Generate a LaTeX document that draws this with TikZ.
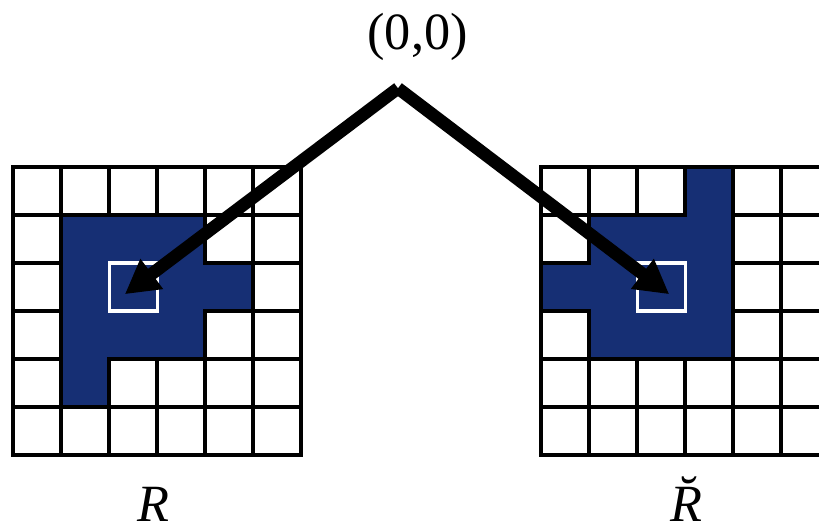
\documentclass[tikz,border=0pt]{standalone}
\usepackage{fix-cm}
\usepackage{amsmath}
\usepackage{fontspec}
\setmainfont{Liberation Serif}
\usepackage{tikz}
\usetikzlibrary{arrows.meta}
\definecolor{regionblue}{RGB}{22,47,116}
\tikzset{
    gridline/.style={
        line width=2.1pt,
        black
    },
    bluepatch/.style={
        line width=2.1pt,
        draw=black,
        fill=regionblue
    },
    % white frame of the centre cell
    centrebox/.style={
        line width=1.8pt,
        white
    },
    blackarrow/.style={
        line width=7.5pt,
        black,
        ->,
        >={Triangle[length=20pt, width=21pt]}
    },
    biglabel/.style={
        font=\fontsize{31}{36}\selectfont
    }
}

\begin{document}
\begin{tikzpicture}[x=1cm,y=1cm]
    \useasboundingbox (-0.271,-7.479) rectangle (16.79,3.479);
    \clip (-0.271,-7.479) rectangle (16.79,3.479);
    % the two 6x6 grids
    \draw[gridline] (0,0) grid (6,-6);
    \draw[gridline] (11,0) grid (17,-6);
    % the region R and its reflection
    \draw[bluepatch] (1,-1) -- (4,-1) -- (4,-2) -- (5,-2) -- (5,-3) -- (4,-3)
        -- (4,-4) -- (2,-4) -- (2,-5) -- (1,-5) -- cycle;
    \draw[bluepatch] (14,0) -- (15,0) -- (15,-4) -- (12,-4) -- (12,-3)
        -- (11,-3) -- (11,-2) -- (12,-2) -- (12,-1) -- (14,-1) -- cycle;
    \draw[centrebox] (2,-2) rectangle (3,-3);
    \draw[centrebox] (13,-2) rectangle (14,-3);
    \draw[gridline] (0,0) rectangle (6,-6);
    \draw[gridline] (11,0) rectangle (17,-6);

    \path (8.02,1.64) coordinate (apex)
          (2.33,-2.65) coordinate (ltip)
          (13.67,-2.65) coordinate (rtip);
    \draw[blackarrow] (apex) -- (ltip);
    \draw[blackarrow] (apex) -- (rtip);

    \node[biglabel] (origin) at (8.43,2.71) {(0,0)};
    \node[biglabel,anchor=base] (rlabel) at (2.92,-7.38) {\textit{R}};
    \node[biglabel,anchor=base] (rbreve) at (14.24,-7.38) {\textit{\u{R}}};
\end{tikzpicture}
\end{document}
